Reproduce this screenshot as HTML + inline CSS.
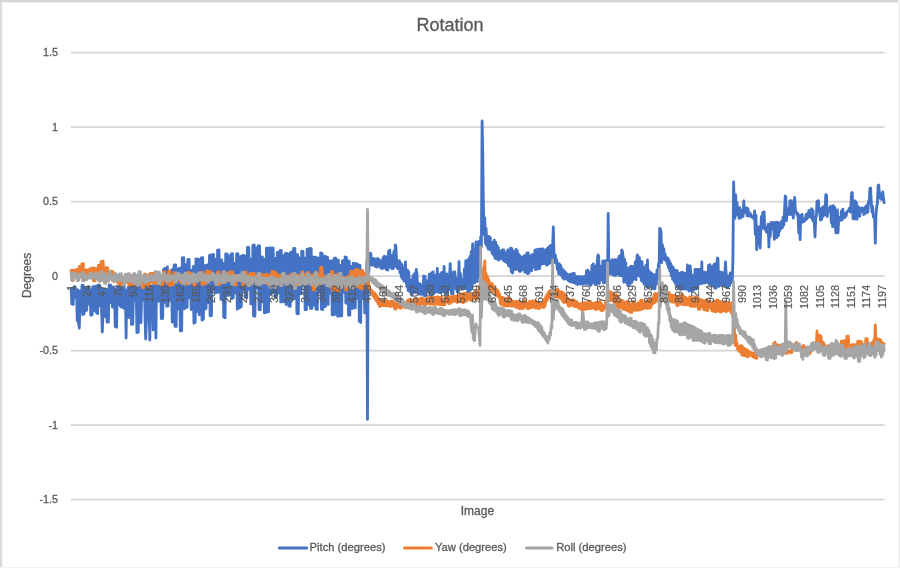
<!DOCTYPE html><html><head><meta charset="utf-8"><style>html,body{margin:0;padding:0;background:#fff;}svg{display:block;filter:blur(0.7px);}text{font-family:"Liberation Sans",sans-serif;fill:#595959;stroke:#595959;stroke-width:0.3px;}</style></head><body>
<svg width="900" height="568" viewBox="0 0 900 568">
<rect x="0" y="0" width="900" height="568" fill="#fff"/>
<rect x="0" y="0" width="1" height="568" fill="#d6d6d6"/><rect x="1" y="0" width="1" height="568" fill="#e3e3e3"/><rect x="2" y="0" width="1" height="568" fill="#f6f6f6"/>
<rect x="0" y="0" width="900" height="2" fill="#d6d6d6"/><rect x="2" y="2" width="898" height="1" fill="#efefef"/>
<rect x="899" y="0" width="1" height="568" fill="#ebebeb"/><rect x="898" y="0" width="1" height="568" fill="#f8f8f8"/>
<rect x="0" y="567" width="900" height="1" fill="#f2f2f2"/>
<line x1="70.8" y1="52.7" x2="884.5" y2="52.7" stroke="#d5d5d5" stroke-width="1.8"/>
<line x1="70.8" y1="127.2" x2="884.5" y2="127.2" stroke="#d5d5d5" stroke-width="1.8"/>
<line x1="70.8" y1="201.7" x2="884.5" y2="201.7" stroke="#d5d5d5" stroke-width="1.8"/>
<line x1="70.8" y1="276.2" x2="884.5" y2="276.2" stroke="#d5d5d5" stroke-width="1.8"/>
<line x1="70.8" y1="350.7" x2="884.5" y2="350.7" stroke="#d5d5d5" stroke-width="1.8"/>
<line x1="70.8" y1="425.2" x2="884.5" y2="425.2" stroke="#d5d5d5" stroke-width="1.8"/>
<line x1="70.8" y1="499.7" x2="884.5" y2="499.7" stroke="#d5d5d5" stroke-width="1.8"/>
<text transform="translate(58,56.3) scale(0.93,1)" font-size="11.6" text-anchor="end">1.5</text>
<text transform="translate(58,130.8) scale(0.93,1)" font-size="11.6" text-anchor="end">1</text>
<text transform="translate(58,205.3) scale(0.93,1)" font-size="11.6" text-anchor="end">0.5</text>
<text transform="translate(58,279.8) scale(0.93,1)" font-size="11.6" text-anchor="end">0</text>
<text transform="translate(58,354.3) scale(0.93,1)" font-size="11.6" text-anchor="end">-0.5</text>
<text transform="translate(58,428.8) scale(0.93,1)" font-size="11.6" text-anchor="end">-1</text>
<text transform="translate(58,503.3) scale(0.93,1)" font-size="11.6" text-anchor="end">-1.5</text>
<polyline fill="none" stroke="#4472c4" stroke-width="2.8" stroke-linejoin="round" stroke-linecap="round" points="71.1,288.7 71.8,303.9 72.5,288.7 73.2,304.5 73.9,286.8 74.5,296.7 75.2,287.0 75.9,297.7 76.6,289.6 77.2,320.6 77.9,290.0 78.6,323.3 79.3,328.0 80.0,302.6 80.6,290.6 81.3,302.3 82.0,285.3 82.7,314.5 83.3,285.3 84.0,314.0 84.7,288.6 85.4,310.8 86.1,288.5 86.7,310.3 87.4,286.9 88.1,304.3 88.8,286.8 89.4,303.9 90.1,289.6 90.8,315.3 91.5,289.5 92.2,314.9 92.8,286.7 93.5,309.7 94.2,286.8 94.9,310.6 95.6,286.1 96.2,312.5 96.9,286.1 97.6,313.6 98.3,285.1 98.9,305.2 99.6,285.1 100.3,305.9 101.0,287.9 101.7,314.1 102.3,332.0 103.0,313.9 103.7,289.0 104.4,316.7 105.0,288.8 105.7,316.5 106.4,289.4 107.1,322.2 107.8,289.3 108.4,322.0 109.1,285.0 109.8,302.8 110.5,284.9 111.1,302.7 111.8,287.3 112.5,307.1 113.2,287.0 113.9,307.4 114.5,289.5 115.2,326.5 115.9,289.4 116.6,327.3 117.2,286.9 117.9,304.4 118.6,286.9 119.3,304.7 120.0,285.0 120.6,306.8 121.3,285.0 122.0,307.2 122.7,283.1 123.4,308.0 124.0,283.0 124.7,308.4 125.4,289.9 126.1,338.0 126.7,290.0 127.4,308.3 128.1,287.3 128.8,317.5 129.5,287.1 130.1,317.1 130.8,282.5 131.5,324.6 132.2,282.4 132.8,324.1 133.5,286.7 134.2,300.4 134.9,286.6 135.6,300.2 136.2,287.8 136.9,332.7 137.6,287.7 138.3,332.2 138.9,285.2 139.6,322.1 140.3,285.1 141.0,322.7 141.7,288.0 142.3,300.3 143.0,287.8 143.7,300.4 144.4,281.0 145.1,320.8 145.7,339.0 146.4,321.3 147.1,284.9 147.8,311.5 148.4,284.7 149.1,311.7 149.8,340.0 150.5,305.5 151.2,285.8 151.8,304.9 152.5,285.9 153.2,329.9 153.9,285.4 154.5,329.1 155.2,281.0 155.9,338.0 156.6,279.8 157.3,299.8 157.9,276.1 158.6,301.1 159.3,274.9 160.0,299.9 160.6,282.8 161.3,318.6 162.0,281.6 162.7,318.4 163.4,269.8 164.0,302.5 164.7,268.4 165.4,302.0 166.1,268.2 166.7,306.3 167.4,266.9 168.1,306.0 168.8,275.8 169.5,300.4 170.1,274.7 170.8,299.9 171.5,270.2 172.2,322.1 172.9,269.0 173.5,322.1 174.2,264.9 174.9,326.4 175.6,264.8 176.2,326.6 176.9,269.1 177.6,308.9 178.3,269.0 179.0,309.0 179.6,268.2 180.3,331.0 181.0,268.0 181.7,330.7 182.3,257.8 183.0,309.1 183.7,257.6 184.4,308.8 185.1,264.5 185.7,307.7 186.4,264.3 187.1,307.4 187.8,259.7 188.4,298.1 189.1,259.5 189.8,297.8 190.5,270.3 191.2,309.7 191.8,270.1 192.5,309.4 193.2,266.6 193.9,323.3 194.6,266.4 195.2,322.4 195.9,258.9 196.6,311.9 197.3,258.8 197.9,311.1 198.6,259.7 199.3,314.8 200.0,259.5 200.7,314.0 201.3,257.8 202.0,320.2 202.7,257.7 203.4,319.3 204.0,266.0 204.7,309.3 205.4,265.5 206.1,308.5 206.8,265.1 207.4,302.8 208.1,264.7 208.8,302.6 209.5,255.4 210.1,315.9 210.8,255.0 211.5,315.7 212.2,254.8 212.9,289.6 213.5,254.4 214.2,289.3 214.9,259.3 215.6,292.9 216.2,258.9 216.9,292.7 217.6,250.1 218.3,291.8 219.0,249.9 219.6,292.2 220.3,260.0 221.0,299.4 221.7,260.0 222.4,299.9 223.0,263.4 223.7,317.1 224.4,263.5 225.1,317.9 225.7,253.9 226.4,295.0 227.1,253.9 227.8,295.5 228.5,255.8 229.1,293.2 229.8,255.8 230.5,293.7 231.2,253.9 231.8,298.7 232.5,253.7 233.2,298.0 233.9,263.5 234.6,293.3 235.2,263.1 235.9,292.6 236.6,253.8 237.3,309.2 237.9,253.6 238.6,308.3 239.3,256.8 240.0,307.6 240.7,256.5 241.3,306.7 242.0,255.8 242.7,289.6 243.4,255.5 244.1,288.9 244.7,255.9 245.4,297.4 246.1,255.8 246.8,297.7 247.4,247.4 248.1,289.0 248.8,247.3 249.5,289.2 250.2,259.6 250.8,303.9 251.5,259.2 252.2,304.1 252.9,245.4 253.5,315.9 254.2,244.9 254.9,316.3 255.6,248.0 256.3,287.9 256.9,247.6 257.6,287.9 258.3,245.7 259.0,309.6 259.6,245.9 260.3,309.9 261.0,256.9 261.7,302.0 262.4,257.0 263.0,301.7 263.7,259.1 264.4,312.9 265.1,259.2 265.7,312.5 266.4,248.2 267.1,312.2 267.8,248.4 268.5,311.9 269.1,248.0 269.8,293.9 270.5,248.2 271.2,293.7 271.9,248.0 272.5,292.9 273.2,248.2 273.9,292.7 274.6,258.1 275.2,296.9 275.9,258.2 276.6,296.6 277.3,252.4 278.0,293.0 278.6,252.3 279.3,292.6 280.0,250.6 280.7,302.1 281.3,250.5 282.0,301.7 282.7,255.6 283.4,301.9 284.1,255.4 284.7,301.5 285.4,253.4 286.1,304.6 286.8,253.3 287.4,304.1 288.1,254.1 288.8,306.1 289.5,254.0 290.2,306.4 290.8,252.1 291.5,299.1 292.2,252.0 292.9,299.4 293.6,248.4 294.2,298.5 294.9,248.3 295.6,298.8 296.3,254.3 296.9,313.6 297.6,254.6 298.3,313.9 299.0,257.7 299.7,293.6 300.3,258.0 301.0,293.9 301.7,251.2 302.4,284.9 303.0,251.5 303.7,285.3 304.4,257.8 305.1,309.7 305.8,258.1 306.4,309.7 307.1,249.2 307.8,304.7 308.5,249.5 309.1,304.7 309.8,248.3 310.5,308.4 311.2,248.6 311.9,308.5 312.5,257.0 313.2,305.1 313.9,257.2 314.6,305.3 315.2,257.2 315.9,309.0 316.6,257.9 317.3,309.5 318.0,257.9 318.6,292.0 319.3,258.6 320.0,292.5 320.7,252.8 321.4,309.2 322.0,253.5 322.7,309.7 323.4,255.8 324.1,306.3 324.7,256.4 325.4,306.8 326.1,256.6 326.8,304.0 327.5,257.3 328.1,304.5 328.8,260.7 329.5,293.3 330.2,261.2 330.8,293.2 331.5,261.0 332.2,314.9 332.9,260.6 333.6,314.8 334.2,258.4 334.9,314.3 335.6,258.0 336.3,314.1 336.9,260.3 337.6,316.2 338.3,260.0 339.0,316.1 339.7,265.5 340.3,315.9 341.0,265.2 341.7,315.9 342.4,260.8 343.1,292.2 343.7,260.4 344.4,292.0 345.1,256.8 345.8,303.1 346.4,257.4 347.1,303.3 347.8,260.6 348.5,315.2 349.2,261.2 349.8,315.3 350.5,266.1 351.2,308.5 351.9,266.7 352.5,308.6 353.2,263.2 353.9,306.8 354.6,263.9 355.3,308.0 355.9,263.5 356.6,297.6 357.3,264.3 358.0,298.6 358.6,264.8 359.3,321.4 360.0,265.4 360.7,322.6 361.4,271.1 362.0,297.9 362.7,271.8 363.4,298.5 364.1,274.3 364.7,312.9 365.4,275.0 366.1,311.9 366.8,260.6 367.5,419.4 368.1,256.9 368.8,272.8 369.5,253.1 370.2,264.7 370.9,253.6 371.5,265.0 372.2,258.2 372.9,265.0 373.6,258.7 374.2,265.4 374.9,258.9 375.6,266.7 376.3,259.4 377.0,267.0 377.6,258.5 378.3,266.1 379.0,259.6 379.7,266.3 380.3,261.1 381.0,268.1 381.7,260.4 382.4,268.6 383.1,257.3 383.7,267.6 384.4,256.2 385.1,268.0 385.8,257.5 386.4,269.7 387.1,256.7 387.8,270.2 388.5,251.4 389.2,267.1 389.8,250.2 390.5,267.0 391.2,256.0 391.9,268.6 392.6,255.2 393.2,268.6 393.9,251.3 394.6,266.5 395.3,245.0 395.9,246.0 396.6,261.4 397.3,268.1 398.0,263.0 398.7,269.0 399.3,260.7 400.0,273.0 400.7,262.9 401.4,277.3 402.0,264.7 402.7,279.1 403.4,268.1 404.1,281.3 404.8,277.4 405.4,262.0 406.1,278.8 406.8,286.5 407.5,270.1 408.1,290.5 408.8,272.0 409.5,291.3 410.2,279.6 410.9,292.8 411.5,281.9 412.2,294.5 412.9,275.6 413.6,292.1 414.2,274.0 414.9,292.5 415.6,274.9 416.3,269.4 417.0,274.1 417.6,292.6 418.3,283.3 419.0,294.1 419.7,283.6 420.4,294.0 421.0,284.7 421.7,294.4 422.4,284.9 423.1,294.2 423.7,276.0 424.4,295.7 425.1,276.6 425.8,295.5 426.5,281.0 427.1,290.3 427.8,280.6 428.5,290.2 429.2,274.5 429.8,295.5 430.5,274.0 431.2,295.5 431.9,272.6 432.6,293.6 433.2,272.0 433.9,293.6 434.6,275.6 435.3,291.9 435.9,275.2 436.6,291.9 437.3,268.4 438.0,291.8 438.7,282.6 439.3,292.5 440.0,274.4 440.7,292.6 441.4,273.0 442.1,291.4 442.7,272.1 443.4,291.9 444.1,266.5 444.8,291.2 445.4,274.3 446.1,295.1 446.8,273.8 447.5,294.7 448.2,278.2 448.8,289.9 449.5,277.7 450.2,263.6 450.9,277.4 451.5,293.6 452.2,277.5 452.9,293.9 453.6,271.9 454.3,288.4 454.9,272.0 455.6,288.7 456.3,277.8 457.0,291.5 457.6,277.9 458.3,291.8 459.0,261.6 459.7,287.1 460.4,273.5 461.0,286.6 461.7,279.6 462.4,288.6 463.1,279.1 463.7,288.1 464.4,268.8 465.1,288.7 465.8,260.7 466.5,288.3 467.1,261.1 467.8,292.1 468.5,259.2 469.2,292.0 469.9,256.5 470.5,290.0 471.2,251.4 471.9,288.3 472.6,244.0 473.2,283.2 473.9,256.7 474.6,282.8 475.3,253.8 476.0,242.0 476.6,253.3 477.3,281.7 478.0,257.9 478.7,241.5 479.3,257.5 480.0,277.1 480.7,236.9 481.4,246.7 482.1,121.0 482.7,150.0 483.4,204.2 484.1,234.8 484.8,217.9 485.4,243.5 486.1,228.4 486.8,246.0 487.5,236.5 488.2,249.2 488.8,236.4 489.5,249.2 490.2,237.3 490.9,250.2 491.6,242.2 492.2,253.3 492.9,243.0 493.6,255.2 494.3,240.2 494.9,258.2 495.6,242.2 496.3,258.9 497.0,245.3 497.7,259.3 498.3,247.5 499.0,260.1 499.7,251.0 500.4,257.8 501.0,251.9 501.7,258.6 502.4,250.0 503.1,260.1 503.8,250.0 504.4,261.3 505.1,252.7 505.8,261.9 506.5,252.4 507.1,263.0 507.8,249.8 508.5,265.5 509.2,249.8 509.9,266.6 510.5,248.2 511.2,271.7 511.9,248.6 512.6,273.0 513.2,251.2 513.9,268.7 514.6,251.6 515.3,269.7 516.0,249.5 516.6,269.1 517.3,250.7 518.0,269.1 518.7,254.3 519.4,271.4 520.0,255.7 520.7,271.3 521.4,257.1 522.1,269.6 522.7,257.5 523.4,269.3 524.1,255.7 524.8,272.3 525.5,255.3 526.1,272.0 526.8,253.2 527.5,273.6 528.2,252.8 528.8,273.3 529.5,255.8 530.2,271.2 530.9,255.6 531.6,270.6 532.2,254.6 532.9,267.6 533.6,254.3 534.3,267.1 534.9,250.2 535.6,269.6 536.3,250.0 537.0,269.0 537.7,249.3 538.3,268.9 539.0,249.1 539.7,268.4 540.4,249.1 541.1,264.3 541.7,248.9 542.4,263.8 543.1,249.0 543.8,263.6 544.4,253.7 545.1,263.0 545.8,249.9 546.5,265.2 547.2,248.6 547.8,264.7 548.5,247.1 549.2,263.1 549.9,245.8 550.5,263.0 551.2,245.3 551.9,260.9 552.6,248.3 553.3,227.0 553.9,251.9 554.6,262.3 555.3,254.8 556.0,263.0 556.6,259.7 557.3,269.3 558.0,263.4 558.7,274.0 559.4,264.0 560.0,274.2 560.7,265.4 561.4,275.4 562.1,268.7 562.7,277.9 563.4,270.1 564.1,279.1 564.8,271.6 565.5,277.9 566.1,273.0 566.8,279.2 567.5,274.5 568.2,280.4 568.9,275.9 569.5,281.4 570.2,274.2 570.9,281.9 571.6,274.3 572.2,282.1 572.9,273.5 573.6,282.6 574.3,273.5 575.0,282.8 575.6,276.5 576.3,284.1 577.0,276.6 577.7,284.3 578.3,276.7 579.0,283.9 579.7,276.7 580.4,284.0 581.1,277.2 581.7,284.1 582.4,276.8 583.1,284.1 583.8,276.6 584.4,283.4 585.1,276.2 585.8,283.4 586.5,270.8 587.2,283.6 587.8,270.1 588.5,283.4 589.2,273.0 589.9,285.1 590.6,271.8 591.2,285.0 591.9,265.5 592.6,282.6 593.3,263.9 593.9,282.3 594.6,267.2 595.3,284.8 596.0,265.9 596.7,284.7 597.3,260.1 598.0,255.0 598.7,256.0 599.4,283.5 600.0,265.9 600.7,280.0 601.4,266.2 602.1,279.8 602.8,261.0 603.4,282.9 604.1,261.5 604.8,282.5 605.5,260.7 606.1,282.5 606.8,261.1 607.5,279.7 608.2,213.5 608.9,274.0 609.5,264.5 610.2,271.9 610.9,261.0 611.6,274.3 612.2,259.7 612.9,274.8 613.6,260.8 614.3,275.2 615.0,259.7 615.6,275.6 616.3,260.2 617.0,274.0 617.7,259.3 618.4,274.3 619.0,256.5 619.7,275.6 620.4,255.5 621.1,275.9 621.7,250.0 622.4,251.0 623.1,257.1 623.8,282.3 624.5,259.1 625.1,280.6 625.8,262.6 626.5,282.5 627.2,269.6 627.8,285.7 628.5,268.5 629.2,284.9 629.9,267.2 630.6,283.3 631.2,266.1 631.9,282.4 632.6,267.3 633.3,279.4 633.9,266.2 634.6,278.5 635.3,261.8 636.0,279.7 636.7,260.6 637.3,255.0 638.0,256.0 638.7,275.7 639.4,257.7 640.1,276.7 640.7,261.1 641.4,280.8 642.1,261.9 642.8,281.8 643.4,266.9 644.1,284.2 644.8,267.8 645.5,285.2 646.2,265.0 646.8,287.1 647.5,260.0 648.2,288.1 648.9,270.7 649.5,285.9 650.2,272.4 650.9,286.7 651.6,273.1 652.3,288.0 652.9,274.9 653.6,288.7 654.3,274.7 655.0,288.8 655.6,274.5 656.3,284.5 657.0,270.2 657.7,278.6 658.4,264.0 659.0,272.7 659.7,228.4 660.4,229.0 661.1,232.0 661.7,262.7 662.4,244.6 663.1,258.0 663.8,248.6 664.5,259.5 665.1,254.0 665.8,260.5 666.5,257.6 667.2,264.0 667.9,257.8 668.5,267.7 669.2,260.3 669.9,271.2 670.6,263.2 671.2,275.6 671.9,265.8 672.6,279.2 673.3,267.6 674.0,281.1 674.6,270.1 675.3,283.5 676.0,270.7 676.7,286.9 677.3,270.7 678.0,287.7 678.7,273.5 679.4,288.2 680.1,273.6 680.7,289.0 681.4,272.5 682.1,288.4 682.8,272.5 683.4,289.1 684.1,273.4 684.8,288.6 685.5,273.5 686.2,289.3 686.8,278.4 687.5,265.0 688.2,278.0 688.9,291.2 689.6,274.5 690.2,266.0 690.9,274.3 691.6,291.2 692.3,275.7 692.9,290.1 693.6,275.4 694.3,289.4 695.0,269.5 695.7,289.2 696.3,269.3 697.0,288.5 697.7,269.4 698.4,284.3 699.0,269.3 699.7,283.8 700.4,274.6 701.1,283.5 701.8,262.0 702.4,283.3 703.1,272.6 703.8,282.8 704.5,272.1 705.1,282.8 705.8,273.0 706.5,282.3 707.2,272.5 707.9,282.3 708.5,265.3 709.2,284.4 709.9,264.6 710.6,284.5 711.2,266.9 711.9,285.2 712.6,266.3 713.3,285.3 714.0,264.4 714.6,287.9 715.3,263.7 716.0,288.1 716.7,267.0 717.4,258.0 718.0,259.0 718.7,286.5 719.4,271.5 720.1,285.0 720.7,272.4 721.4,285.3 722.1,272.4 722.8,285.7 723.5,273.4 724.1,286.0 724.8,273.7 725.5,262.0 726.2,274.7 726.8,287.8 727.5,275.7 728.2,286.9 728.9,276.4 729.6,285.7 730.2,273.0 730.9,282.9 731.6,272.9 732.3,281.3 732.9,260.0 733.6,182.0 734.3,206.3 735.0,218.3 735.7,195.0 736.3,214.8 737.0,202.5 737.7,214.8 738.4,208.2 739.1,218.4 739.7,207.6 740.4,218.0 741.1,210.5 741.8,216.9 742.4,209.9 743.1,216.4 743.8,201.0 744.5,212.1 745.2,210.2 745.8,212.6 746.5,207.9 747.2,215.8 747.9,208.6 748.5,216.2 749.2,212.2 749.9,214.9 750.6,213.9 751.3,216.8 751.9,216.0 752.6,217.5 753.3,217.7 754.0,219.2 754.6,210.9 755.3,234.3 756.0,215.2 756.7,249.7 757.4,228.4 758.0,241.7 758.7,226.8 759.4,239.7 760.1,248.0 760.7,230.3 761.4,216.3 762.1,228.5 762.8,212.5 763.5,227.9 764.1,212.0 764.8,229.1 765.5,226.8 766.2,231.5 766.9,227.9 767.5,232.8 768.2,224.1 768.9,247.0 769.6,224.5 770.2,236.7 770.9,222.6 771.6,229.0 772.3,222.4 773.0,228.4 773.6,222.8 774.3,239.4 775.0,222.6 775.7,237.8 776.3,222.2 777.0,237.5 777.7,222.3 778.4,235.7 779.1,224.1 779.7,231.2 780.4,222.7 781.1,228.7 781.8,220.9 782.4,227.7 783.1,217.1 783.8,225.1 784.5,211.5 785.2,196.0 785.8,197.0 786.5,220.7 787.2,209.1 787.9,214.6 788.6,208.7 789.2,214.0 789.9,200.8 790.6,214.7 791.3,200.7 791.9,213.9 792.6,204.5 793.3,218.1 794.0,204.2 794.7,197.5 795.3,209.4 796.0,211.5 796.7,213.4 797.4,215.5 798.0,213.6 798.7,232.9 799.4,217.2 800.1,239.7 800.8,215.4 801.4,223.0 802.1,214.4 802.8,221.6 803.5,219.7 804.1,221.5 804.8,218.3 805.5,220.0 806.2,214.5 806.9,218.8 807.5,213.3 808.2,217.3 808.9,210.5 809.6,215.1 810.2,211.5 810.9,217.2 811.6,208.6 812.3,219.5 813.0,210.3 813.6,221.7 814.3,221.8 815.0,237.0 815.7,217.9 816.4,215.6 817.0,201.5 817.7,212.0 818.4,200.7 819.1,211.1 819.7,209.7 820.4,220.1 821.1,208.7 821.8,219.1 822.5,207.4 823.1,216.1 823.8,206.4 824.5,215.1 825.2,206.6 825.8,194.7 826.5,195.0 827.2,216.5 827.9,208.1 828.6,209.6 829.2,209.7 829.9,211.2 830.6,206.2 831.3,222.7 831.9,208.1 832.6,226.7 833.3,205.6 834.0,225.0 834.7,207.4 835.3,227.6 836.0,232.8 836.7,233.0 837.4,210.0 838.1,232.5 838.7,217.1 839.4,220.6 840.1,217.3 840.8,220.3 841.4,211.1 842.1,219.9 842.8,209.2 843.5,218.2 844.2,214.8 844.8,217.6 845.5,213.1 846.2,215.8 846.9,212.2 847.5,211.4 848.2,210.5 848.9,209.6 849.6,208.0 850.3,212.0 850.9,206.3 851.6,193.0 852.3,192.4 853.0,218.6 853.6,201.1 854.3,219.0 855.0,201.0 855.7,218.9 856.4,202.2 857.0,219.2 857.7,206.4 858.4,215.8 859.1,207.5 859.7,216.4 860.4,209.1 861.1,211.7 861.8,207.9 862.5,210.2 863.1,209.4 863.8,214.6 864.5,207.9 865.2,213.4 865.9,206.1 866.5,212.9 867.2,204.6 867.9,211.8 868.6,201.0 869.2,202.7 869.9,188.3 870.6,188.0 871.3,202.4 872.0,212.1 872.6,206.3 873.3,217.0 874.0,216.0 874.7,219.4 875.3,243.3 876.0,214.9 876.7,206.6 877.4,203.0 878.1,185.6 878.7,185.0 879.4,192.8 880.1,198.2 880.8,194.3 881.4,199.3 882.1,198.3 882.8,192.0 883.5,198.8 884.2,202.7"/>
<polyline fill="none" stroke="#ed7d31" stroke-width="2.8" stroke-linejoin="round" stroke-linecap="round" points="71.1,270.3 71.8,280.4 72.5,270.2 73.2,280.5 73.9,270.3 74.5,274.4 75.2,270.2 75.9,274.3 76.6,269.4 77.2,274.5 77.9,269.2 78.6,274.4 79.3,266.5 80.0,274.1 80.6,266.4 81.3,274.1 82.0,263.6 82.7,279.9 83.3,263.6 84.0,279.9 84.7,270.0 85.4,276.3 86.1,270.0 86.7,276.3 87.4,269.9 88.1,274.5 88.8,269.9 89.4,274.5 90.1,268.6 90.8,275.6 91.5,268.5 92.2,275.5 92.8,267.9 93.5,280.9 94.2,267.8 94.9,280.8 95.6,268.9 96.2,273.9 96.9,268.8 97.6,273.8 98.3,265.4 98.9,281.1 99.6,265.2 100.3,281.1 101.0,261.6 101.7,280.0 102.3,261.4 103.0,261.0 103.7,269.1 104.4,281.2 105.0,269.9 105.7,281.5 106.4,267.3 107.1,280.9 107.8,268.2 108.4,281.3 109.1,271.3 109.8,276.9 110.5,272.5 111.1,277.7 111.8,270.8 112.5,280.8 113.2,272.2 113.9,281.4 114.5,273.7 115.2,280.1 115.9,274.9 116.6,280.5 117.2,277.9 117.9,283.3 118.6,278.1 119.3,283.5 120.0,278.4 120.6,285.2 121.3,278.6 122.0,285.4 122.7,278.7 123.4,283.0 124.0,278.9 124.7,283.2 125.4,278.3 126.1,282.2 126.7,278.5 127.4,282.3 128.1,279.4 128.8,285.0 129.5,279.6 130.1,285.1 130.8,275.7 131.5,284.8 132.2,275.6 132.8,284.9 133.5,277.9 134.2,284.9 134.9,277.8 135.6,285.0 136.2,278.2 136.9,284.0 137.6,278.1 138.3,284.1 138.9,275.1 139.6,282.8 140.3,275.0 141.0,282.9 141.7,279.3 142.3,287.6 143.0,279.3 143.7,287.8 144.4,274.2 145.1,283.9 145.7,274.1 146.4,283.9 147.1,275.5 147.8,286.0 148.4,275.4 149.1,286.1 149.8,273.7 150.5,282.5 151.2,273.3 151.8,282.1 152.5,273.5 153.2,283.2 153.9,273.1 154.5,282.8 155.2,276.5 155.9,283.8 156.6,276.1 157.3,283.4 157.9,274.6 158.6,281.2 159.3,274.2 160.0,280.8 160.6,275.8 161.3,285.0 162.0,275.8 162.7,285.0 163.4,272.0 164.0,279.6 164.7,271.9 165.4,279.6 166.1,275.2 166.7,283.3 167.4,275.1 168.1,283.3 168.8,271.1 169.5,285.5 170.1,271.0 170.8,285.5 171.5,275.7 172.2,284.6 172.9,275.6 173.5,284.6 174.2,272.7 174.9,279.3 175.6,272.7 176.2,279.3 176.9,275.6 177.6,279.5 178.3,275.6 179.0,279.5 179.6,275.8 180.3,282.4 181.0,275.8 181.7,282.4 182.3,275.1 183.0,282.5 183.7,275.1 184.4,282.5 185.1,275.8 185.7,284.4 186.4,275.8 187.1,284.4 187.8,272.5 188.4,283.4 189.1,272.5 189.8,283.4 190.5,273.3 191.2,280.6 191.8,273.3 192.5,280.6 193.2,275.5 193.9,285.2 194.6,275.5 195.2,285.2 195.9,275.7 196.6,281.0 197.3,275.7 197.9,281.0 198.6,275.7 199.3,279.3 200.0,275.7 200.7,279.3 201.3,272.5 202.0,284.6 202.7,272.5 203.4,284.6 204.0,274.4 204.7,283.5 205.4,274.4 206.1,283.5 206.8,270.8 207.4,281.1 208.1,270.8 208.8,281.1 209.5,271.7 210.1,279.8 210.8,271.7 211.5,279.8 212.2,275.6 212.9,279.4 213.5,275.6 214.2,279.4 214.9,275.8 215.6,279.2 216.2,275.8 216.9,279.2 217.6,272.0 218.3,284.7 219.0,272.0 219.6,284.7 220.3,275.8 221.0,282.7 221.7,275.7 222.4,282.7 223.0,271.6 223.7,282.3 224.4,271.6 225.1,282.3 225.7,274.0 226.4,280.7 227.1,273.9 227.8,280.7 228.5,272.3 229.1,279.5 229.8,272.3 230.5,279.5 231.2,271.6 231.8,279.3 232.5,271.6 233.2,279.3 233.9,275.5 234.6,285.1 235.2,275.5 235.9,285.1 236.6,275.4 237.3,279.2 237.9,275.4 238.6,279.2 239.3,275.4 240.0,278.9 240.7,275.4 241.3,278.9 242.0,275.3 242.7,284.9 243.4,275.2 244.1,284.9 244.7,271.9 245.4,280.0 246.1,271.8 246.8,280.0 247.4,275.3 248.1,283.7 248.8,275.2 249.5,283.7 250.2,273.5 250.8,284.0 251.5,273.6 252.2,283.9 252.9,273.5 253.5,278.8 254.2,273.5 254.9,278.7 255.6,275.3 256.3,282.9 256.9,275.3 257.6,282.8 258.3,275.0 259.0,278.8 259.6,275.1 260.3,278.7 261.0,274.4 261.7,279.0 262.4,274.4 263.0,279.0 263.7,275.0 264.4,282.3 265.1,275.0 265.7,282.2 266.4,274.2 267.1,284.2 267.8,274.3 268.5,284.1 269.1,275.5 269.8,278.9 270.5,275.6 271.2,279.0 271.9,271.3 272.5,279.6 273.2,271.3 273.9,279.7 274.6,272.3 275.2,279.8 275.9,272.4 276.6,279.8 277.3,274.9 278.0,283.4 278.6,274.9 279.3,283.5 280.0,275.4 280.7,280.7 281.3,275.4 282.0,280.8 282.7,274.1 283.4,279.1 284.1,274.1 284.7,279.2 285.4,276.1 286.1,279.6 286.8,276.1 287.4,279.7 288.1,276.2 288.8,282.3 289.5,276.3 290.2,282.4 290.8,274.2 291.5,280.3 292.2,274.2 292.9,280.3 293.6,275.2 294.2,279.7 294.9,275.1 295.6,279.7 296.3,275.1 296.9,284.8 297.6,275.0 298.3,285.0 299.0,276.0 299.7,283.1 300.3,276.0 301.0,283.3 301.7,272.1 302.4,280.3 303.0,271.9 303.7,280.4 304.4,275.0 305.1,280.3 305.8,274.9 306.4,280.4 307.1,272.7 307.8,281.4 308.5,272.5 309.1,281.5 309.8,275.3 310.5,281.0 311.2,275.2 311.9,281.1 312.5,275.0 313.2,289.9 313.9,275.1 314.6,290.0 315.2,272.3 315.9,282.9 316.6,272.4 317.3,283.0 318.0,273.9 318.6,284.1 319.3,274.1 320.0,284.3 320.7,267.4 321.4,282.6 322.0,267.6 322.7,282.8 323.4,276.8 324.1,281.8 324.7,276.9 325.4,282.0 326.1,277.1 326.8,282.2 327.5,277.2 328.1,282.2 328.8,274.1 329.5,282.6 330.2,274.3 330.8,282.7 331.5,271.4 332.2,290.2 332.9,271.7 333.6,290.2 334.2,277.8 334.9,288.0 335.6,278.0 336.3,288.0 336.9,274.5 337.6,290.9 338.3,274.7 339.0,290.9 339.7,278.1 340.3,287.5 341.0,278.0 341.7,287.5 342.4,277.4 343.1,282.9 343.7,277.3 344.4,282.8 345.1,277.7 345.8,290.0 346.4,277.6 347.1,290.0 347.8,276.2 348.5,284.1 349.2,276.2 349.8,284.0 350.5,271.5 351.2,288.7 351.9,271.5 352.5,288.7 353.2,271.1 353.9,282.3 354.6,271.0 355.3,282.3 355.9,269.3 356.6,286.4 357.3,269.3 358.0,286.4 358.6,270.7 359.3,287.9 360.0,270.7 360.7,287.9 361.4,270.7 362.0,289.0 362.7,270.4 363.4,288.7 364.1,273.6 364.7,281.6 365.4,273.2 366.1,281.6 366.8,275.4 367.5,284.2 368.1,280.0 368.8,287.0 369.5,285.9 370.2,290.0 370.9,289.8 371.5,292.2 372.2,290.9 372.9,295.7 373.6,292.6 374.2,297.7 374.9,293.1 375.6,299.8 376.3,294.7 377.0,301.8 377.6,297.0 378.3,303.9 379.0,298.6 379.7,306.6 380.3,301.1 381.0,305.8 381.7,301.2 382.4,305.6 383.1,299.6 383.7,305.7 384.4,299.8 385.1,305.5 385.8,300.7 386.4,306.0 387.1,300.8 387.8,305.8 388.5,301.5 389.2,305.8 389.8,301.8 390.5,306.5 391.2,301.1 391.9,305.5 392.6,301.5 393.2,306.1 393.9,302.6 394.6,308.6 395.3,303.0 395.9,309.3 396.6,303.6 397.3,307.2 398.0,303.6 398.7,307.1 399.3,303.8 400.0,308.1 400.7,303.8 401.4,308.0 402.0,304.0 402.7,307.0 403.4,303.8 404.1,306.6 404.8,303.3 405.4,307.8 406.1,302.8 406.8,307.5 407.5,300.3 408.1,305.5 408.8,299.7 409.5,305.0 410.2,300.3 410.9,305.9 411.5,299.8 412.2,305.6 412.9,300.7 413.6,306.0 414.2,300.6 414.9,305.9 415.6,298.8 416.3,305.2 417.0,298.7 417.6,305.1 418.3,299.3 419.0,305.2 419.7,299.2 420.4,305.1 421.0,298.1 421.7,303.7 422.4,298.0 423.1,303.6 423.7,299.3 424.4,305.3 425.1,299.2 425.8,305.1 426.5,298.5 427.1,303.5 427.8,298.4 428.5,303.4 429.2,297.2 429.8,304.2 430.5,297.2 431.2,304.2 431.9,297.7 432.6,304.4 433.2,297.7 433.9,304.4 434.6,297.5 435.3,304.1 435.9,297.5 436.6,304.1 437.3,297.0 438.0,304.4 438.7,297.0 439.3,304.4 440.0,297.5 440.7,304.5 441.4,297.5 442.1,304.5 442.7,299.3 443.4,305.0 444.1,299.2 444.8,304.8 445.4,297.3 446.1,302.4 446.8,297.0 447.5,302.2 448.2,296.8 448.8,303.5 449.5,296.6 450.2,303.4 450.9,296.9 451.5,302.1 452.2,296.7 452.9,301.9 453.6,296.3 454.3,301.4 454.9,296.1 455.6,301.2 456.3,296.2 457.0,302.3 457.6,296.0 458.3,302.1 459.0,294.7 459.7,301.7 460.4,294.6 461.0,301.6 461.7,293.8 462.4,302.5 463.1,293.6 463.7,302.4 464.4,293.4 465.1,301.2 465.8,293.2 466.5,301.0 467.1,295.0 467.8,299.4 468.5,294.8 469.2,299.2 469.9,293.7 470.5,300.3 471.2,293.5 471.9,300.1 472.6,294.8 473.2,298.8 473.9,294.5 474.6,298.4 475.3,291.4 476.0,299.8 476.6,291.1 477.3,299.4 478.0,291.0 478.7,296.5 479.3,285.7 480.0,291.3 480.7,281.0 481.4,287.2 482.1,274.6 482.7,282.1 483.4,268.4 484.1,275.1 484.8,261.0 485.4,280.5 486.1,273.5 486.8,286.7 487.5,276.5 488.2,288.1 488.8,280.0 489.5,290.5 490.2,282.9 490.9,291.6 491.6,283.4 492.2,290.2 492.9,284.7 493.6,291.2 494.3,287.4 494.9,293.6 495.6,288.5 496.3,294.6 497.0,289.7 497.7,296.6 498.3,290.9 499.0,297.6 499.7,294.0 500.4,303.6 501.0,297.1 501.7,304.9 502.4,297.4 503.1,305.2 503.8,297.9 504.4,305.6 505.1,299.0 505.8,305.8 506.5,299.4 507.1,306.1 507.8,297.6 508.5,305.6 509.2,298.1 509.9,305.9 510.5,300.2 511.2,305.8 511.9,300.6 512.6,306.1 513.2,301.5 513.9,306.2 514.6,301.9 515.3,306.6 516.0,301.3 516.6,307.5 517.3,301.5 518.0,307.5 518.7,301.7 519.4,308.6 520.0,301.7 520.7,308.6 521.4,302.4 522.1,308.3 522.7,302.5 523.4,308.3 524.1,300.7 524.8,307.1 525.5,300.8 526.1,307.2 526.8,302.9 527.5,308.5 528.2,302.9 528.8,308.5 529.5,301.3 530.2,307.5 530.9,301.3 531.6,307.5 532.2,300.8 532.9,307.0 533.6,300.9 534.3,307.0 534.9,301.5 535.6,308.0 536.3,301.5 537.0,308.0 537.7,302.5 538.3,308.4 539.0,302.5 539.7,308.4 540.4,303.2 541.1,307.2 541.7,303.2 542.4,307.2 543.1,302.0 543.8,307.7 544.4,299.7 545.1,305.9 545.8,296.5 546.5,301.3 547.2,294.1 547.8,299.3 548.5,292.2 549.2,297.5 549.9,290.4 550.5,297.0 551.2,291.2 551.9,299.9 552.6,291.2 553.3,299.9 553.9,291.6 554.6,296.9 555.3,291.6 556.0,296.9 556.6,289.3 557.3,297.2 558.0,289.3 558.7,297.2 559.4,291.1 560.0,298.3 560.7,292.1 561.4,299.2 562.1,291.9 562.7,301.7 563.4,293.0 564.1,302.6 564.8,294.6 565.5,301.6 566.1,295.7 566.8,302.5 567.5,298.1 568.2,305.6 568.9,299.2 569.5,306.4 570.2,300.1 570.9,304.8 571.6,300.6 572.2,305.2 572.9,299.5 573.6,306.0 574.3,300.1 575.0,306.5 575.6,301.4 576.3,306.7 577.0,301.9 577.7,307.2 578.3,303.6 579.0,308.3 579.7,304.1 580.4,308.8 581.1,303.4 581.7,309.9 582.4,303.9 583.1,310.2 583.8,302.9 584.4,309.4 585.1,302.6 585.8,309.4 586.5,303.0 587.2,308.8 587.8,302.7 588.5,308.7 589.2,301.7 589.9,308.7 590.6,301.4 591.2,308.6 591.9,303.6 592.6,308.1 593.3,303.4 593.9,308.1 594.6,302.9 595.3,309.4 596.0,302.7 596.7,309.3 597.3,302.4 598.0,308.6 598.7,302.1 599.4,308.5 600.0,301.4 600.7,310.2 601.4,303.5 602.1,310.8 602.8,305.6 603.4,310.2 604.1,305.9 604.8,308.0 605.5,302.2 606.1,304.9 606.8,298.5 607.5,301.9 608.2,293.5 608.9,300.1 609.5,291.5 610.2,300.6 610.9,292.2 611.6,300.1 612.2,293.1 612.9,301.0 613.6,293.6 614.3,303.4 615.0,294.5 615.6,304.3 616.3,294.7 617.0,307.0 617.7,295.6 618.4,307.8 619.0,299.8 619.7,306.9 620.4,300.5 621.1,307.6 621.7,300.5 622.4,308.6 623.1,301.2 623.8,309.3 624.5,302.2 625.1,309.5 625.8,302.9 626.5,310.2 627.2,301.3 627.8,310.9 628.5,302.0 629.2,311.5 629.9,304.4 630.6,312.5 631.2,304.3 631.9,312.3 632.6,301.6 633.3,310.4 633.9,301.4 634.6,310.2 635.3,304.2 636.0,310.4 636.7,304.0 637.3,310.2 638.0,302.9 638.7,310.0 639.4,302.7 640.1,309.8 640.7,300.3 641.4,309.0 642.1,300.1 642.8,308.8 643.4,303.2 644.1,308.0 644.8,303.0 645.5,307.8 646.2,301.4 646.8,308.3 647.5,301.2 648.2,307.9 648.9,300.3 649.5,308.4 650.2,299.3 650.9,307.4 651.6,298.8 652.3,304.3 652.9,297.7 653.6,303.2 654.3,294.4 655.0,302.4 655.6,293.3 656.3,301.3 657.0,294.6 657.7,299.8 658.4,293.5 659.0,298.7 659.7,291.4 660.4,298.9 661.1,291.6 661.7,299.2 662.4,291.4 663.1,300.2 663.8,291.8 664.5,300.6 665.1,291.8 665.8,300.6 666.5,292.1 667.2,300.9 667.9,292.6 668.5,300.4 669.2,293.0 669.9,300.8 670.6,295.0 671.2,301.9 671.9,295.3 672.6,302.2 673.3,295.3 674.0,302.0 674.6,295.5 675.3,302.3 676.0,296.2 676.7,305.4 677.3,296.4 678.0,305.6 678.7,297.3 679.4,303.9 680.1,297.5 680.7,304.1 681.4,294.7 682.1,304.3 682.8,294.9 683.4,304.5 684.1,297.0 684.8,304.9 685.5,297.2 686.2,305.2 686.8,298.5 687.5,304.3 688.2,298.7 688.9,304.5 689.6,296.9 690.2,306.1 690.9,297.2 691.6,306.4 692.3,299.2 692.9,306.2 693.6,299.5 694.3,306.5 695.0,296.8 695.7,305.8 696.3,297.1 697.0,306.1 697.7,298.1 698.4,309.2 699.0,298.4 699.7,309.4 700.4,299.7 701.1,306.8 701.8,300.0 702.4,307.1 703.1,300.5 703.8,309.6 704.5,300.8 705.1,309.9 705.8,300.2 706.5,310.3 707.2,300.3 707.9,310.5 708.5,301.0 709.2,307.6 709.9,301.1 710.6,307.8 711.2,302.8 711.9,310.8 712.6,302.9 713.3,311.0 714.0,301.3 714.6,311.7 715.3,301.4 716.0,311.9 716.7,300.2 717.4,310.9 718.0,300.2 718.7,311.1 719.4,301.5 720.1,311.9 720.7,301.6 721.4,312.0 722.1,303.3 722.8,310.5 723.5,303.4 724.1,310.6 724.8,301.6 725.5,311.5 726.2,301.6 726.8,311.3 727.5,303.4 728.2,310.3 728.9,303.2 729.6,310.2 730.2,303.1 730.9,312.3 731.6,302.9 732.3,315.3 732.9,311.6 733.6,329.7 734.3,324.4 735.0,345.0 735.7,335.0 736.3,346.1 737.0,343.1 737.7,349.7 738.4,346.2 739.1,351.2 739.7,347.0 740.4,352.1 741.1,345.5 741.8,354.8 742.4,346.3 743.1,355.4 743.8,348.1 744.5,355.6 745.2,349.0 745.8,356.0 746.5,349.6 747.2,356.6 747.9,350.5 748.5,356.6 749.2,351.9 749.9,355.2 750.6,352.5 751.3,355.4 751.9,352.9 752.6,356.7 753.3,353.3 754.0,357.3 754.6,352.6 755.3,357.8 756.0,352.9 756.7,358.4 757.4,352.7 758.0,355.4 758.7,350.4 759.4,353.9 760.1,353.0 760.7,352.4 761.4,351.5 762.1,350.9 762.8,349.5 763.5,350.1 764.1,349.1 764.8,350.3 765.5,349.1 766.2,350.0 766.9,349.4 767.5,350.3 768.2,349.2 768.9,352.0 769.6,349.5 770.2,352.1 770.9,347.7 771.6,350.2 772.3,346.5 773.0,349.1 773.6,343.4 774.3,348.2 775.0,342.1 775.7,347.1 776.3,345.7 777.0,348.9 777.7,344.7 778.4,348.9 779.1,345.5 779.7,346.5 780.4,345.6 781.1,346.7 781.8,345.2 782.4,346.0 783.1,346.5 783.8,348.5 784.5,349.6 785.2,351.1 785.8,352.1 786.5,353.5 787.2,351.8 787.9,352.7 788.6,351.0 789.2,351.6 789.9,350.9 790.6,352.7 791.3,350.2 791.9,352.4 792.6,348.9 793.3,349.6 794.0,348.2 794.7,349.0 795.3,343.3 796.0,350.1 796.7,342.3 797.4,349.6 798.0,347.1 798.7,349.7 799.4,346.8 800.1,349.0 800.8,346.8 801.4,346.9 802.1,347.2 802.8,348.2 803.5,345.3 804.1,350.0 804.8,346.6 805.5,351.4 806.2,351.3 806.9,352.1 807.5,352.7 808.2,353.4 808.9,350.5 809.6,353.9 810.2,347.8 810.9,352.2 811.6,345.7 812.3,350.2 813.0,342.8 813.6,348.4 814.3,344.6 815.0,346.6 815.7,342.5 816.4,344.9 817.0,331.0 817.7,349.5 818.4,337.3 819.1,350.2 819.7,335.2 820.4,347.9 821.1,336.3 821.8,348.6 822.5,341.9 823.1,347.7 823.8,342.8 824.5,348.5 825.2,345.9 825.8,352.8 826.5,346.8 827.2,353.6 827.9,345.6 828.6,351.3 829.2,346.3 829.9,352.1 830.6,352.0 831.3,355.1 831.9,352.8 832.6,354.7 833.3,345.6 834.0,352.1 834.7,343.8 835.3,350.2 836.0,347.1 836.7,347.4 837.4,345.2 838.1,346.2 838.7,344.8 839.4,350.4 840.1,344.8 840.8,350.4 841.4,341.2 842.1,347.7 842.8,341.2 843.5,347.7 844.2,340.7 844.8,351.8 845.5,340.8 846.2,351.8 846.9,336.1 847.5,345.3 848.2,336.2 848.9,345.3 849.6,345.4 850.3,351.9 850.9,345.4 851.6,351.9 852.3,344.6 853.0,349.0 853.6,344.7 854.3,349.0 855.0,344.7 855.7,349.7 856.4,344.8 857.0,349.7 857.7,341.1 858.4,346.3 859.1,341.2 859.7,346.4 860.4,341.7 861.1,345.9 861.8,341.9 862.5,346.0 863.1,346.0 863.8,347.4 864.5,345.7 865.2,347.1 865.9,338.6 866.5,351.0 867.2,338.6 867.9,350.6 868.6,345.1 869.2,345.5 869.9,344.9 870.6,345.0 871.3,343.6 872.0,347.9 872.6,342.1 873.3,347.2 874.0,339.4 874.7,340.7 875.3,325.0 876.0,340.5 876.7,338.4 877.4,341.4 878.1,339.2 878.7,342.0 879.4,339.3 880.1,341.7 880.8,340.2 881.4,342.4 882.1,342.6 882.8,343.3 883.5,343.3 884.2,343.9"/>
<polyline fill="none" stroke="#a5a5a5" stroke-width="2.8" stroke-linejoin="round" stroke-linecap="round" points="71.1,272.9 71.8,280.0 72.5,272.9 73.2,280.0 73.9,273.2 74.5,277.6 75.2,273.2 75.9,277.6 76.6,275.6 77.2,280.6 77.9,275.6 78.6,280.6 79.3,274.2 80.0,277.4 80.6,274.2 81.3,277.4 82.0,272.6 82.7,280.9 83.3,272.6 84.0,280.9 84.7,275.3 85.4,279.8 86.1,275.3 86.7,279.8 87.4,275.6 88.1,278.1 88.8,275.6 89.4,278.1 90.1,273.2 90.8,278.1 91.5,273.2 92.2,278.2 92.8,274.7 93.5,277.7 94.2,274.7 94.9,277.8 95.6,273.1 96.2,278.9 96.9,273.1 97.6,279.0 98.3,275.7 98.9,280.7 99.6,275.7 100.3,280.9 101.0,271.7 101.7,279.6 102.3,271.7 103.0,279.8 103.7,273.6 104.4,283.2 105.0,273.6 105.7,283.4 106.4,276.3 107.1,280.5 107.8,276.3 108.4,280.7 109.1,271.6 109.8,279.1 110.5,271.5 111.1,279.2 111.8,276.2 112.5,280.8 113.2,276.3 113.9,281.0 114.5,273.7 115.2,281.1 115.9,273.7 116.6,281.2 117.2,274.9 117.9,279.5 118.6,275.0 119.3,279.5 120.0,273.6 120.6,280.1 121.3,273.6 122.0,280.2 122.7,276.7 123.4,284.9 124.0,276.7 124.7,284.9 125.4,274.3 126.1,280.9 126.7,274.3 127.4,280.9 128.1,273.7 128.8,281.1 129.5,273.7 130.1,281.1 130.8,276.8 131.5,281.9 132.2,276.8 132.8,282.0 133.5,273.6 134.2,283.1 134.9,273.6 135.6,283.2 136.2,275.1 136.9,285.1 137.6,275.1 138.3,285.1 138.9,271.6 139.6,284.6 140.3,271.6 141.0,284.5 141.7,276.1 142.3,280.3 143.0,276.1 143.7,280.3 144.4,275.3 145.1,282.3 145.7,275.3 146.4,282.2 147.1,276.7 147.8,281.5 148.4,276.7 149.1,281.4 149.8,275.7 150.5,279.6 151.2,275.7 151.8,279.5 152.5,275.8 153.2,280.3 153.9,275.8 154.5,280.3 155.2,271.7 155.9,279.4 156.6,271.7 157.3,279.3 157.9,272.1 158.6,283.6 159.3,272.1 160.0,283.5 160.6,274.7 161.3,279.3 162.0,274.7 162.7,279.3 163.4,273.4 164.0,279.2 164.7,273.4 165.4,279.1 166.1,276.0 166.7,281.2 167.4,276.0 168.1,281.2 168.8,275.6 169.5,280.1 170.1,275.6 170.8,280.1 171.5,276.0 172.2,279.0 172.9,276.0 173.5,279.0 174.2,275.8 174.9,282.4 175.6,275.8 176.2,282.4 176.9,273.1 177.6,279.0 178.3,273.1 179.0,279.0 179.6,275.0 180.3,279.6 181.0,275.0 181.7,279.6 182.3,275.7 183.0,283.9 183.7,275.7 184.4,283.9 185.1,273.2 185.7,280.3 186.4,273.2 187.1,280.3 187.8,275.2 188.4,283.2 189.1,275.2 189.8,283.2 190.5,275.8 191.2,282.1 191.8,275.8 192.5,282.1 193.2,273.8 193.9,281.7 194.6,273.8 195.2,281.7 195.9,275.5 196.6,281.3 197.3,275.5 197.9,281.3 198.6,273.0 199.3,279.4 200.0,273.0 200.7,279.5 201.3,273.6 202.0,280.2 202.7,273.6 203.4,280.3 204.0,275.1 204.7,280.2 205.4,275.2 206.1,280.3 206.8,275.9 207.4,282.1 208.1,276.0 208.8,282.1 209.5,275.9 210.1,279.5 210.8,276.0 211.5,279.5 212.2,273.6 212.9,280.2 213.5,273.6 214.2,280.2 214.9,275.1 215.6,284.4 216.2,275.1 216.9,284.5 217.6,274.7 218.3,280.9 219.0,274.7 219.6,281.0 220.3,276.5 221.0,282.2 221.7,276.6 222.4,282.3 223.0,272.1 223.7,282.3 224.4,272.2 225.1,282.4 225.7,273.9 226.4,280.3 227.1,273.9 227.8,280.3 228.5,276.6 229.1,280.5 229.8,276.6 230.5,280.5 231.2,276.0 231.8,284.2 232.5,276.0 233.2,284.2 233.9,276.1 234.6,280.1 235.2,276.1 235.9,280.2 236.6,275.8 237.3,280.4 237.9,275.8 238.6,280.4 239.3,275.2 240.0,280.7 240.7,275.2 241.3,280.8 242.0,272.4 242.7,281.2 243.4,272.5 244.1,281.3 244.7,275.6 245.4,282.2 246.1,275.6 246.8,282.2 247.4,276.6 248.1,285.7 248.8,276.6 249.5,285.7 250.2,277.6 250.8,283.6 251.5,277.7 252.2,283.7 252.9,277.4 253.5,280.7 254.2,277.5 254.9,280.8 255.6,277.8 256.3,284.2 256.9,277.8 257.6,284.4 258.3,273.2 259.0,284.7 259.6,273.2 260.3,284.9 261.0,277.8 261.7,282.9 262.4,277.9 263.0,283.0 263.7,278.4 264.4,282.7 265.1,278.4 265.7,282.8 266.4,278.2 267.1,281.8 267.8,278.3 268.5,281.9 269.1,278.2 269.8,287.6 270.5,278.3 271.2,287.6 271.9,277.0 272.5,282.5 273.2,277.0 273.9,282.5 274.6,278.8 275.2,287.3 275.9,278.8 276.6,287.3 277.3,278.8 278.0,282.1 278.6,278.8 279.3,282.1 280.0,278.8 280.7,285.7 281.3,278.8 282.0,285.7 282.7,273.2 283.4,282.1 284.1,273.2 284.7,282.1 285.4,276.2 286.1,284.8 286.8,276.2 287.4,284.8 288.1,277.1 288.8,282.1 289.5,277.1 290.2,282.1 290.8,275.8 291.5,283.3 292.2,275.8 292.9,283.3 293.6,273.3 294.2,288.5 294.9,273.3 295.6,288.5 296.3,276.2 296.9,282.1 297.6,276.2 298.3,282.1 299.0,278.2 299.7,284.6 300.3,278.2 301.0,284.6 301.7,274.0 302.4,283.2 303.0,274.0 303.7,283.2 304.4,278.0 305.1,284.4 305.8,278.0 306.4,284.4 307.1,274.1 307.8,282.3 308.5,274.1 309.1,282.3 309.8,276.6 310.5,284.5 311.2,276.6 311.9,284.5 312.5,277.4 313.2,282.9 313.9,277.4 314.6,282.9 315.2,273.0 315.9,286.4 316.6,273.0 317.3,286.4 318.0,278.7 318.6,282.1 319.3,278.7 320.0,282.1 320.7,278.4 321.4,283.2 322.0,278.4 322.7,283.2 323.4,278.7 324.1,282.8 324.7,278.7 325.4,282.8 326.1,275.9 326.8,285.6 327.5,275.9 328.1,285.6 328.8,274.5 329.5,286.3 330.2,274.5 330.8,286.3 331.5,278.2 332.2,283.9 332.9,278.2 333.6,283.9 334.2,275.3 334.9,284.5 335.6,275.3 336.3,284.5 336.9,276.7 337.6,286.3 338.3,276.7 339.0,286.3 339.7,273.1 340.3,287.2 341.0,273.1 341.7,287.2 342.4,278.4 343.1,282.2 343.7,278.4 344.4,282.2 345.1,278.3 345.8,286.2 346.4,278.3 347.1,286.2 347.8,278.2 348.5,285.6 349.2,278.2 349.8,285.6 350.5,276.6 351.2,288.4 351.9,276.6 352.5,288.4 353.2,278.7 353.9,286.5 354.6,278.7 355.3,286.5 355.9,278.8 356.6,284.7 357.3,278.8 358.0,284.7 358.6,277.0 359.3,282.4 360.0,277.0 360.7,282.4 361.4,278.4 362.0,283.0 362.7,278.4 363.4,283.0 364.1,277.3 364.7,282.2 365.4,277.3 366.1,281.5 366.8,277.4 367.5,209.5 368.1,277.2 368.8,279.6 369.5,276.8 370.2,279.8 370.9,277.4 371.5,280.9 372.2,278.0 372.9,282.7 373.6,279.0 374.2,283.9 374.9,279.5 375.6,285.1 376.3,280.4 377.0,286.3 377.6,282.6 378.3,286.5 379.0,283.6 379.7,287.7 380.3,284.4 381.0,291.4 381.7,285.6 382.4,292.5 383.1,286.1 383.7,292.6 384.4,287.3 385.1,293.7 385.8,289.4 386.4,294.2 387.1,290.6 387.8,295.3 388.5,291.0 389.2,295.3 389.8,291.9 390.5,296.1 391.2,293.3 391.9,297.0 392.6,294.1 393.2,297.8 393.9,293.4 394.6,300.0 395.3,294.2 395.9,300.8 396.6,294.7 397.3,300.5 398.0,295.8 398.7,301.4 399.3,297.8 400.0,303.4 400.7,298.9 401.4,304.2 402.0,299.8 402.7,305.4 403.4,300.8 404.1,306.3 404.8,302.7 405.4,306.6 406.1,303.3 406.8,307.3 407.5,303.7 408.1,307.6 408.8,304.3 409.5,308.3 410.2,304.2 410.9,308.8 411.5,304.8 412.2,309.4 412.9,304.0 413.6,308.8 414.2,304.3 414.9,309.1 415.6,306.6 416.3,311.8 417.0,306.9 417.6,312.1 418.3,306.1 419.0,310.7 419.7,306.4 420.4,311.0 421.0,307.5 421.7,311.6 422.4,307.8 423.1,311.9 423.7,306.7 424.4,313.4 425.1,307.0 425.8,313.7 426.5,308.1 427.1,311.8 427.8,308.4 428.5,312.0 429.2,307.4 429.8,312.5 430.5,307.6 431.2,312.7 431.9,307.8 432.6,314.3 433.2,308.0 433.9,314.4 434.6,307.3 435.3,312.7 435.9,307.4 436.6,312.9 437.3,309.6 438.0,313.6 438.7,309.8 439.3,313.7 440.0,308.3 440.7,314.0 441.4,308.4 442.1,314.1 442.7,309.7 443.4,315.5 444.1,309.8 444.8,315.5 445.4,310.6 446.1,313.4 446.8,310.6 447.5,313.4 448.2,310.6 448.8,314.4 449.5,310.6 450.2,314.4 450.9,310.4 451.5,314.0 452.2,310.4 452.9,314.0 453.6,309.6 454.3,314.5 454.9,309.6 455.6,314.5 456.3,309.9 457.0,313.5 457.6,309.9 458.3,313.5 459.0,308.6 459.7,315.7 460.4,309.0 461.0,315.9 461.7,310.2 462.4,314.5 463.1,310.5 463.7,314.8 464.4,309.7 465.1,314.7 465.8,310.1 466.5,315.0 467.1,310.8 467.8,316.4 468.5,311.2 469.2,316.7 469.9,313.3 470.5,316.9 471.2,326.0 471.9,332.0 472.6,315.2 473.2,338.0 473.9,340.0 474.6,340.5 475.3,328.0 476.0,323.8 476.6,327.0 477.3,327.0 478.0,328.0 478.7,329.0 479.3,336.0 480.0,345.4 480.7,247.0 481.4,317.7 482.1,296.8 482.7,299.8 483.4,281.3 484.1,297.6 484.8,284.4 485.4,299.3 486.1,283.7 486.8,298.4 487.5,287.2 488.2,300.4 488.8,291.5 489.5,303.0 490.2,295.0 490.9,304.9 491.6,299.2 492.2,308.8 492.9,301.1 493.6,310.2 494.3,301.8 494.9,310.3 495.6,303.7 496.3,311.8 497.0,306.8 497.7,314.1 498.3,308.7 499.0,315.5 499.7,307.9 500.4,313.7 501.0,308.4 501.7,314.2 502.4,308.1 503.1,316.7 503.8,308.6 504.4,317.1 505.1,310.7 505.8,315.5 506.5,311.2 507.1,315.9 507.8,310.4 508.5,315.7 509.2,310.9 509.9,316.1 510.5,311.0 511.2,319.4 511.9,311.5 512.6,319.8 513.2,314.6 513.9,320.1 514.6,315.0 515.3,320.5 516.0,315.0 516.6,320.4 517.3,315.4 518.0,320.7 518.7,313.9 519.4,319.2 520.0,314.2 520.7,319.4 521.4,316.0 522.1,322.0 522.7,316.3 523.4,322.3 524.1,315.3 524.8,321.7 525.5,315.6 526.1,322.0 526.8,317.4 527.5,322.4 528.2,317.7 528.8,322.7 529.5,318.4 530.2,322.0 530.9,319.6 531.6,323.3 532.2,320.3 532.9,324.0 533.6,321.4 534.3,325.3 534.9,321.9 535.6,326.5 536.3,323.1 537.0,327.7 537.7,322.4 538.3,330.3 539.0,323.6 539.7,331.5 540.4,325.5 541.1,333.2 541.7,327.1 542.4,335.2 543.1,331.2 543.8,336.9 544.4,333.0 545.1,338.9 545.8,335.6 546.5,340.8 547.2,338.2 547.8,343.1 548.5,336.5 549.2,339.5 549.9,332.9 550.5,335.3 551.2,325.2 551.9,327.9 552.6,260.0 553.3,319.3 553.9,309.4 554.6,309.8 555.3,302.3 556.0,307.8 556.6,299.9 557.3,307.9 558.0,301.2 558.7,309.8 559.4,306.1 560.0,311.9 560.7,307.9 561.4,314.0 562.1,308.2 562.7,316.1 563.4,310.4 564.1,317.7 564.8,313.4 565.5,319.5 566.1,315.5 566.8,321.1 567.5,316.9 568.2,323.3 568.9,319.1 569.5,324.7 570.2,319.6 570.9,325.3 571.6,319.8 572.2,325.7 572.9,322.3 573.6,324.9 574.3,322.5 575.0,325.3 575.6,322.3 576.3,327.8 577.0,322.5 577.7,328.3 578.3,323.3 579.0,327.7 579.7,323.5 580.4,328.1 581.1,322.9 581.7,327.2 582.4,312.0 583.1,313.0 583.8,322.3 584.4,329.3 585.1,322.3 585.8,329.4 586.5,321.9 587.2,327.6 587.8,321.9 588.5,327.7 589.2,323.9 589.9,327.7 590.6,323.9 591.2,327.8 591.9,323.9 592.6,328.0 593.3,323.9 593.9,328.0 594.6,322.9 595.3,328.5 596.0,322.9 596.7,328.5 597.3,322.6 598.0,331.2 598.7,322.6 599.4,331.3 600.0,321.9 600.7,328.1 601.4,322.0 602.1,328.2 602.8,321.6 603.4,329.3 604.1,321.9 604.8,329.5 605.5,325.0 606.1,328.5 606.8,321.0 607.5,262.8 608.2,314.7 608.9,315.8 609.5,308.0 610.2,310.6 610.9,305.0 611.6,311.1 612.2,306.1 612.9,312.3 613.6,305.0 614.3,314.7 615.0,306.1 615.6,315.8 616.3,309.3 617.0,316.5 617.7,310.5 618.4,317.7 619.0,309.9 619.7,321.2 620.4,311.1 621.1,322.4 621.7,314.2 622.4,320.1 623.1,315.4 623.8,321.2 624.5,315.6 625.1,322.9 625.8,316.2 626.5,323.3 627.2,318.8 627.8,324.3 628.5,319.4 629.2,324.7 629.9,317.8 630.6,325.8 631.2,318.5 631.9,326.2 632.6,321.2 633.3,327.6 633.9,321.8 634.6,327.9 635.3,321.2 636.0,328.3 636.7,322.0 637.3,329.7 638.0,323.0 638.7,331.0 639.4,323.8 640.1,332.3 640.7,322.8 641.4,330.1 642.1,323.5 642.8,331.2 643.4,324.0 644.1,335.1 644.8,324.7 645.5,336.4 646.2,327.1 646.8,334.5 647.5,327.9 648.2,336.1 648.9,330.3 649.5,343.0 650.2,333.8 650.9,346.7 651.6,335.8 652.3,348.9 652.9,339.3 653.6,352.6 654.3,345.2 655.0,352.7 655.6,342.6 656.3,349.8 657.0,338.6 657.7,338.5 658.4,322.7 659.0,323.2 659.7,268.8 660.4,306.4 661.1,288.7 661.7,291.0 662.4,283.0 663.1,297.6 663.8,286.4 664.5,301.1 665.1,285.1 665.8,303.8 666.5,290.1 667.2,309.5 667.9,300.3 668.5,313.7 669.2,307.7 669.9,320.8 670.6,315.6 671.2,327.0 671.9,321.8 672.6,329.8 673.3,319.5 674.0,331.5 674.6,320.0 675.3,332.0 676.0,320.7 676.7,331.5 677.3,321.2 678.0,331.9 678.7,323.9 679.4,334.3 680.1,324.3 680.7,334.8 681.4,324.0 682.1,334.2 682.8,324.3 683.4,334.7 684.1,322.7 684.8,334.4 685.5,323.1 686.2,334.9 686.8,324.2 687.5,338.0 688.2,324.6 688.9,338.5 689.6,325.4 690.2,336.9 690.9,326.0 691.6,337.3 692.3,326.1 692.9,340.3 693.6,326.8 694.3,340.5 695.0,327.9 695.7,340.2 696.3,328.6 697.0,340.5 697.7,329.4 698.4,340.2 699.0,330.2 699.7,340.5 700.4,330.7 701.1,341.2 701.8,331.5 702.4,341.5 703.1,333.3 703.8,342.9 704.5,333.9 705.1,343.2 705.8,334.0 706.5,340.7 707.2,334.1 707.9,340.9 708.5,333.3 709.2,343.7 709.9,333.5 710.6,343.9 711.2,335.5 711.9,341.1 712.6,335.7 713.3,341.2 714.0,335.1 714.6,342.4 715.3,335.2 716.0,342.5 716.7,336.0 717.4,342.7 718.0,336.2 718.7,342.9 719.4,335.4 720.1,342.9 720.7,335.5 721.4,343.0 722.1,335.3 722.8,343.9 723.5,335.5 724.1,344.0 724.8,336.2 725.5,343.1 726.2,336.3 726.8,343.3 727.5,335.3 728.2,345.3 728.9,335.4 729.6,345.4 730.2,335.8 730.9,344.4 731.6,335.7 732.3,342.7 732.9,328.0 733.6,281.9 734.3,319.5 735.0,327.1 735.7,313.5 736.3,324.7 737.0,318.9 737.7,328.3 738.4,325.0 739.1,331.7 739.7,327.3 740.4,333.5 741.1,330.0 741.8,334.2 742.4,331.7 743.1,335.7 743.8,331.3 744.5,337.0 745.2,332.3 745.8,338.3 746.5,335.7 747.2,340.4 747.9,337.5 748.5,342.2 749.2,336.8 749.9,343.8 750.6,337.8 751.3,344.5 751.9,339.3 752.6,347.1 753.3,339.7 754.0,349.2 754.6,344.3 755.3,350.1 756.0,347.8 756.7,353.8 757.4,350.7 758.0,355.3 758.7,350.6 759.4,355.4 760.1,350.1 760.7,356.6 761.4,350.0 762.1,356.8 762.8,349.3 763.5,355.2 764.1,349.7 764.8,355.8 765.5,348.1 766.2,359.8 766.9,348.5 767.5,360.0 768.2,347.0 768.9,357.4 769.6,346.5 770.2,356.9 770.9,348.1 771.6,358.0 772.3,347.6 773.0,357.4 773.6,345.1 774.3,358.7 775.0,344.6 775.7,358.2 776.3,347.1 777.0,353.6 777.7,346.9 778.4,353.8 779.1,347.3 779.7,354.2 780.4,347.3 781.1,354.4 781.8,344.5 782.4,355.7 783.1,343.9 783.8,353.9 784.5,346.3 785.2,352.1 785.8,301.2 786.5,350.2 787.2,342.6 787.9,348.0 788.6,341.9 789.2,346.8 789.9,342.2 790.6,347.0 791.3,343.2 791.9,348.2 792.6,344.4 793.3,349.4 794.0,345.5 794.7,349.9 795.3,344.5 796.0,350.9 796.7,344.2 797.4,350.6 798.0,343.8 798.7,349.1 799.4,344.0 800.1,351.1 800.8,348.2 801.4,356.7 802.1,350.1 802.8,359.4 803.5,351.0 804.1,355.9 804.8,350.5 805.5,354.9 806.2,347.3 806.9,356.1 807.5,346.9 808.2,355.1 808.9,347.9 809.6,351.1 810.2,346.5 810.9,350.0 811.6,343.5 812.3,350.2 813.0,343.0 813.6,349.8 814.3,344.1 815.0,348.9 815.7,343.6 816.4,348.6 817.0,342.9 817.7,352.1 818.4,343.7 819.1,352.7 819.7,343.9 820.4,350.2 821.1,345.1 821.8,351.0 822.5,348.0 823.1,354.8 823.8,348.9 824.5,355.7 825.2,346.9 825.8,353.6 826.5,346.9 827.2,354.2 827.9,346.9 828.6,358.2 829.2,346.8 829.9,358.7 830.6,344.5 831.3,356.4 831.9,343.1 832.6,355.0 833.3,345.7 834.0,355.0 834.7,344.4 835.3,353.7 836.0,340.5 836.7,353.6 837.4,341.8 838.1,354.4 838.7,344.2 839.4,355.6 840.1,345.4 840.8,356.4 841.4,344.9 842.1,354.5 842.8,345.5 843.5,355.5 844.2,349.2 844.8,358.3 845.5,349.7 846.2,358.7 846.9,349.3 847.5,356.4 848.2,349.2 848.9,355.9 849.6,349.0 850.3,355.6 850.9,348.9 851.6,355.0 852.3,348.2 853.0,357.2 853.6,348.2 854.3,358.1 855.0,346.7 855.7,355.8 856.4,346.6 857.0,356.5 857.7,346.1 858.4,361.3 859.1,346.0 859.7,361.4 860.4,347.3 861.1,355.6 861.8,347.0 862.5,354.8 863.1,344.5 863.8,357.7 864.5,344.4 865.2,356.6 865.9,348.0 866.5,353.2 867.2,347.6 867.9,353.3 868.6,343.9 869.2,355.4 869.9,343.5 870.6,355.7 871.3,346.8 872.0,354.1 872.6,346.6 873.3,354.3 874.0,346.9 874.7,357.4 875.3,346.3 876.0,355.8 876.7,341.9 877.4,350.8 878.1,341.8 878.7,349.6 879.4,343.9 880.1,354.3 880.8,345.3 881.4,357.2 882.1,346.0 882.8,354.9 883.5,344.9 884.2,350.7"/>
<text transform="translate(74.9,285) rotate(-90) scale(1.06,1)" font-size="10.2" text-anchor="end" style="stroke-width:0.2px">1</text>
<text transform="translate(90.5,285) rotate(-90) scale(1.06,1)" font-size="10.2" text-anchor="end" style="stroke-width:0.2px">24</text>
<text transform="translate(106.1,285) rotate(-90) scale(1.06,1)" font-size="10.2" text-anchor="end" style="stroke-width:0.2px">47</text>
<text transform="translate(121.7,285) rotate(-90) scale(1.06,1)" font-size="10.2" text-anchor="end" style="stroke-width:0.2px">70</text>
<text transform="translate(137.3,285) rotate(-90) scale(1.06,1)" font-size="10.2" text-anchor="end" style="stroke-width:0.2px">93</text>
<text transform="translate(152.9,285) rotate(-90) scale(1.06,1)" font-size="10.2" text-anchor="end" style="stroke-width:0.2px">116</text>
<text transform="translate(168.5,285) rotate(-90) scale(1.06,1)" font-size="10.2" text-anchor="end" style="stroke-width:0.2px">139</text>
<text transform="translate(184.1,285) rotate(-90) scale(1.06,1)" font-size="10.2" text-anchor="end" style="stroke-width:0.2px">162</text>
<text transform="translate(199.7,285) rotate(-90) scale(1.06,1)" font-size="10.2" text-anchor="end" style="stroke-width:0.2px">185</text>
<text transform="translate(215.3,285) rotate(-90) scale(1.06,1)" font-size="10.2" text-anchor="end" style="stroke-width:0.2px">208</text>
<text transform="translate(230.9,285) rotate(-90) scale(1.06,1)" font-size="10.2" text-anchor="end" style="stroke-width:0.2px">231</text>
<text transform="translate(246.5,285) rotate(-90) scale(1.06,1)" font-size="10.2" text-anchor="end" style="stroke-width:0.2px">254</text>
<text transform="translate(262.1,285) rotate(-90) scale(1.06,1)" font-size="10.2" text-anchor="end" style="stroke-width:0.2px">277</text>
<text transform="translate(277.7,285) rotate(-90) scale(1.06,1)" font-size="10.2" text-anchor="end" style="stroke-width:0.2px">300</text>
<text transform="translate(293.3,285) rotate(-90) scale(1.06,1)" font-size="10.2" text-anchor="end" style="stroke-width:0.2px">323</text>
<text transform="translate(308.9,285) rotate(-90) scale(1.06,1)" font-size="10.2" text-anchor="end" style="stroke-width:0.2px">346</text>
<text transform="translate(324.5,285) rotate(-90) scale(1.06,1)" font-size="10.2" text-anchor="end" style="stroke-width:0.2px">369</text>
<text transform="translate(340.1,285) rotate(-90) scale(1.06,1)" font-size="10.2" text-anchor="end" style="stroke-width:0.2px">392</text>
<text transform="translate(355.7,285) rotate(-90) scale(1.06,1)" font-size="10.2" text-anchor="end" style="stroke-width:0.2px">415</text>
<text transform="translate(371.3,285) rotate(-90) scale(1.06,1)" font-size="10.2" text-anchor="end" style="stroke-width:0.2px">438</text>
<text transform="translate(386.9,285) rotate(-90) scale(1.06,1)" font-size="10.2" text-anchor="end" style="stroke-width:0.2px">461</text>
<text transform="translate(402.5,285) rotate(-90) scale(1.06,1)" font-size="10.2" text-anchor="end" style="stroke-width:0.2px">484</text>
<text transform="translate(418.0,285) rotate(-90) scale(1.06,1)" font-size="10.2" text-anchor="end" style="stroke-width:0.2px">507</text>
<text transform="translate(433.6,285) rotate(-90) scale(1.06,1)" font-size="10.2" text-anchor="end" style="stroke-width:0.2px">530</text>
<text transform="translate(449.2,285) rotate(-90) scale(1.06,1)" font-size="10.2" text-anchor="end" style="stroke-width:0.2px">553</text>
<text transform="translate(464.8,285) rotate(-90) scale(1.06,1)" font-size="10.2" text-anchor="end" style="stroke-width:0.2px">576</text>
<text transform="translate(480.4,285) rotate(-90) scale(1.06,1)" font-size="10.2" text-anchor="end" style="stroke-width:0.2px">599</text>
<text transform="translate(496.0,285) rotate(-90) scale(1.06,1)" font-size="10.2" text-anchor="end" style="stroke-width:0.2px">622</text>
<text transform="translate(511.6,285) rotate(-90) scale(1.06,1)" font-size="10.2" text-anchor="end" style="stroke-width:0.2px">645</text>
<text transform="translate(527.2,285) rotate(-90) scale(1.06,1)" font-size="10.2" text-anchor="end" style="stroke-width:0.2px">668</text>
<text transform="translate(542.8,285) rotate(-90) scale(1.06,1)" font-size="10.2" text-anchor="end" style="stroke-width:0.2px">691</text>
<text transform="translate(558.4,285) rotate(-90) scale(1.06,1)" font-size="10.2" text-anchor="end" style="stroke-width:0.2px">714</text>
<text transform="translate(574.0,285) rotate(-90) scale(1.06,1)" font-size="10.2" text-anchor="end" style="stroke-width:0.2px">737</text>
<text transform="translate(589.6,285) rotate(-90) scale(1.06,1)" font-size="10.2" text-anchor="end" style="stroke-width:0.2px">760</text>
<text transform="translate(605.2,285) rotate(-90) scale(1.06,1)" font-size="10.2" text-anchor="end" style="stroke-width:0.2px">783</text>
<text transform="translate(620.8,285) rotate(-90) scale(1.06,1)" font-size="10.2" text-anchor="end" style="stroke-width:0.2px">806</text>
<text transform="translate(636.4,285) rotate(-90) scale(1.06,1)" font-size="10.2" text-anchor="end" style="stroke-width:0.2px">829</text>
<text transform="translate(652.0,285) rotate(-90) scale(1.06,1)" font-size="10.2" text-anchor="end" style="stroke-width:0.2px">852</text>
<text transform="translate(667.6,285) rotate(-90) scale(1.06,1)" font-size="10.2" text-anchor="end" style="stroke-width:0.2px">875</text>
<text transform="translate(683.2,285) rotate(-90) scale(1.06,1)" font-size="10.2" text-anchor="end" style="stroke-width:0.2px">898</text>
<text transform="translate(698.8,285) rotate(-90) scale(1.06,1)" font-size="10.2" text-anchor="end" style="stroke-width:0.2px">921</text>
<text transform="translate(714.4,285) rotate(-90) scale(1.06,1)" font-size="10.2" text-anchor="end" style="stroke-width:0.2px">944</text>
<text transform="translate(730.0,285) rotate(-90) scale(1.06,1)" font-size="10.2" text-anchor="end" style="stroke-width:0.2px">967</text>
<text transform="translate(745.6,285) rotate(-90) scale(1.06,1)" font-size="10.2" text-anchor="end" style="stroke-width:0.2px">990</text>
<text transform="translate(761.2,285) rotate(-90) scale(1.06,1)" font-size="10.2" text-anchor="end" style="stroke-width:0.2px">1013</text>
<text transform="translate(776.8,285) rotate(-90) scale(1.06,1)" font-size="10.2" text-anchor="end" style="stroke-width:0.2px">1036</text>
<text transform="translate(792.4,285) rotate(-90) scale(1.06,1)" font-size="10.2" text-anchor="end" style="stroke-width:0.2px">1059</text>
<text transform="translate(807.9,285) rotate(-90) scale(1.06,1)" font-size="10.2" text-anchor="end" style="stroke-width:0.2px">1082</text>
<text transform="translate(823.5,285) rotate(-90) scale(1.06,1)" font-size="10.2" text-anchor="end" style="stroke-width:0.2px">1105</text>
<text transform="translate(839.1,285) rotate(-90) scale(1.06,1)" font-size="10.2" text-anchor="end" style="stroke-width:0.2px">1128</text>
<text transform="translate(854.7,285) rotate(-90) scale(1.06,1)" font-size="10.2" text-anchor="end" style="stroke-width:0.2px">1151</text>
<text transform="translate(870.3,285) rotate(-90) scale(1.06,1)" font-size="10.2" text-anchor="end" style="stroke-width:0.2px">1174</text>
<text transform="translate(885.9,285) rotate(-90) scale(1.06,1)" font-size="10.2" text-anchor="end" style="stroke-width:0.2px">1197</text>
<text x="450" y="30.7" font-size="18" text-anchor="middle">Rotation</text>
<text x="477.4" y="515" font-size="12" text-anchor="middle">Image</text>
<text transform="translate(31.2,275.4) rotate(-90)" font-size="12" text-anchor="middle">Degrees</text>
<line x1="279.3" y1="547.9" x2="306.7" y2="547.9" stroke="#4472c4" stroke-width="3" stroke-linecap="round"/>
<text x="309.6" y="551.2" font-size="11.2">Pitch (degrees)</text>
<line x1="404.6" y1="547.9" x2="431.4" y2="547.9" stroke="#ed7d31" stroke-width="3" stroke-linecap="round"/>
<text x="434.9" y="551.2" font-size="11.2">Yaw (degrees)</text>
<line x1="526.4" y1="547.9" x2="552.0" y2="547.9" stroke="#a5a5a5" stroke-width="3" stroke-linecap="round"/>
<text x="556.2" y="551.2" font-size="11.2">Roll (degrees)</text>
</svg></body></html>
